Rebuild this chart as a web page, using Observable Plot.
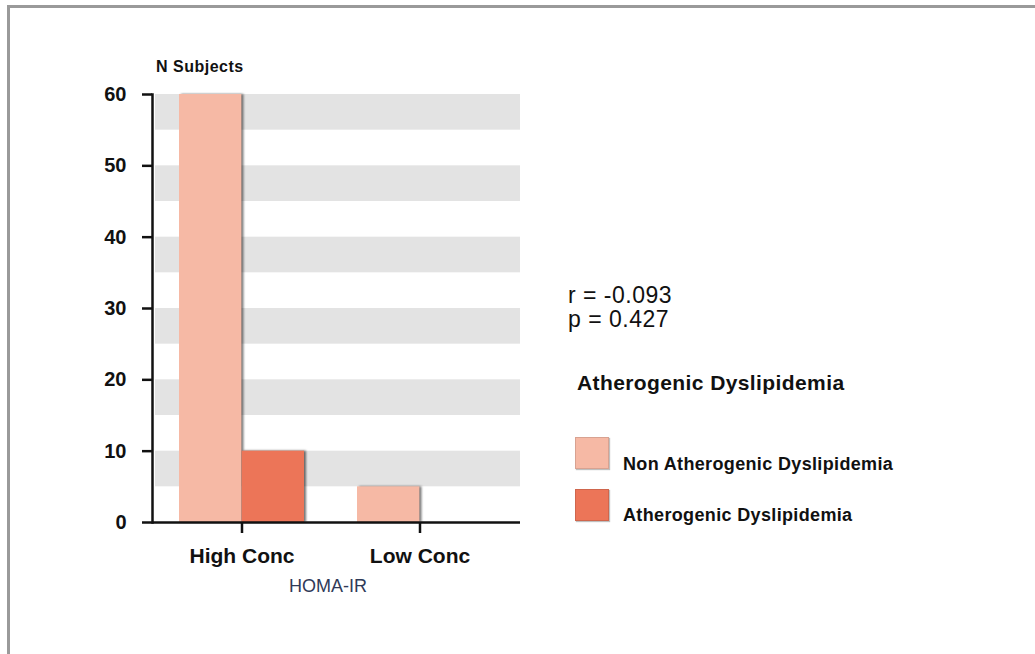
<!DOCTYPE html>
<html>
<head>
<meta charset="utf-8">
<script src="https://cdn.jsdelivr.net/npm/d3@7"></script>
<script src="https://cdn.jsdelivr.net/npm/@observablehq/plot@0.6"></script>
<style>
  html, body { margin: 0; padding: 0; background: #fff; }
  #wrap { position: relative; width: 1035px; height: 654px; overflow: hidden; background: #fff;
          font-family: "Liberation Sans", Arial, Helvetica, sans-serif; color: #111; }
  #frame { position: absolute; left: 7px; top: 5px; right: -10px; bottom: -10px;
           border-left: 3px solid #9a9a9a; border-top: 3px solid #9a9a9a; }
  #chart { position: absolute; left: 0; top: 0; }
  .lbl { position: absolute; line-height: 1; white-space: nowrap; }
  .bar { filter: drop-shadow(2px 0px 1px rgba(0,0,0,0.55)); }
  .sw { position: absolute; width: 34px; height: 32px; box-sizing: border-box;
        border: 1px solid rgba(0,0,0,0.12); box-shadow: 1px 1px 1px rgba(0,0,0,0.25); }
</style>
</head>
<body>
<div id="wrap">
  <div id="frame"></div>
  <div id="chart"></div>
</div>
<script>
// ---- data ----
const concs = ["High Conc", "Low Conc"];
const groups = ["Non Atherogenic Dyslipidemia", "Atherogenic Dyslipidemia"];
const nonAtherogenic = [60, 5];
const atherogenic = [10, 0];
const groupColors = ["#f6b9a5", "#ec7558"];
const yTicks = [0, 10, 20, 30, 40, 50, 60];
const stripeStarts = [5, 15, 25, 35, 45, 55];
const statsLines = ["r = -0.093", "p = 0.427"];
const legendTitle = "Atherogenic Dyslipidemia";
const yLabel = "N Subjects";
const xLabel = "HOMA-IR";

const data = concs.flatMap((c, i) => [
  {conc: c, group: groups[0], n: nonAtherogenic[i]},
  {conc: c, group: groups[1], n: atherogenic[i]}
]);

const halfBand = 62.6;

const chart = Plot.plot({
  width: 1035,
  height: 654,
  marginTop: 94,
  marginBottom: 132,
  marginLeft: 152,
  marginRight: 515,
  style: {fontFamily: "'Liberation Sans', Arial, Helvetica, sans-serif", background: "transparent", color: "#111", overflow: "visible"},
  x: {domain: concs, paddingInner: 0.3, paddingOuter: 0.178, align: 0.42, axis: null},
  y: {domain: [0, 60], axis: null},
  color: {domain: groups, range: groupColors},
  marks: [
    Plot.rectY(stripeStarts, {y1: d => d, y2: d => d + 5, fill: "#e3e3e3", insetLeft: 3}),
    Plot.barY(data.filter(d => d.group === groups[0]), {x: "conc", y: "n", fill: "group", insetRight: halfBand, className: "bar"}),
    Plot.barY(data.filter(d => d.group === groups[1] && d.n > 0), {x: "conc", y: "n", fill: "group", insetLeft: halfBand, className: "bar"}),
    Plot.ruleY([0], {stroke: "#111", strokeWidth: 2.5}),
    Plot.frame({anchor: "left", stroke: "#111", strokeWidth: 2.5}),
    Plot.axisX({tickSize: 11, tickPadding: 15, fontSize: 21, fontWeight: "bold", strokeWidth: 2.5, label: null}),
    Plot.axisY({ticks: yTicks, tickSize: 10, tickPadding: 16, fontSize: 20, fontWeight: "bold", strokeWidth: 2.5, label: null})
  ]
});
document.getElementById("chart").appendChild(chart);

// ---- HTML text overlays ----
const wrap = document.getElementById("wrap");
function addLabel(text, left, top, size, weight, color, extra) {
  const d = document.createElement("div");
  d.className = "lbl";
  d.textContent = text;
  d.style.left = left + "px";
  d.style.top = top + "px";
  d.style.fontSize = size + "px";
  d.style.fontWeight = weight;
  if (color) d.style.color = color;
  if (extra) Object.assign(d.style, extra);
  wrap.appendChild(d);
  return d;
}
addLabel(yLabel, 156, 58.5, 16, "bold", "#111", {letterSpacing: "0.5px"});
addLabel(xLabel, 228, 576.8, 18, "normal", "#2f3a58", {width: "200px", textAlign: "center"});
statsLines.forEach((t, i) => addLabel(t, 568, 283.5 + i * 24, 23, "normal", "#111", {letterSpacing: "0.5px"}));
addLabel(legendTitle, 577, 372.2, 21, "bold", "#111", {letterSpacing: "0.4px"});
const swTops = [437, 489];
const lblTops = [454.8, 505.8];
groups.forEach((g, i) => {
  const s = document.createElement("div");
  s.className = "sw";
  s.style.left = "575px";
  s.style.top = swTops[i] + "px";
  s.style.background = groupColors[i];
  wrap.appendChild(s);
  addLabel(g, 623, lblTops[i], 18, "bold", "#111", {letterSpacing: "0.35px"});
});
</script>
</body>
</html>
